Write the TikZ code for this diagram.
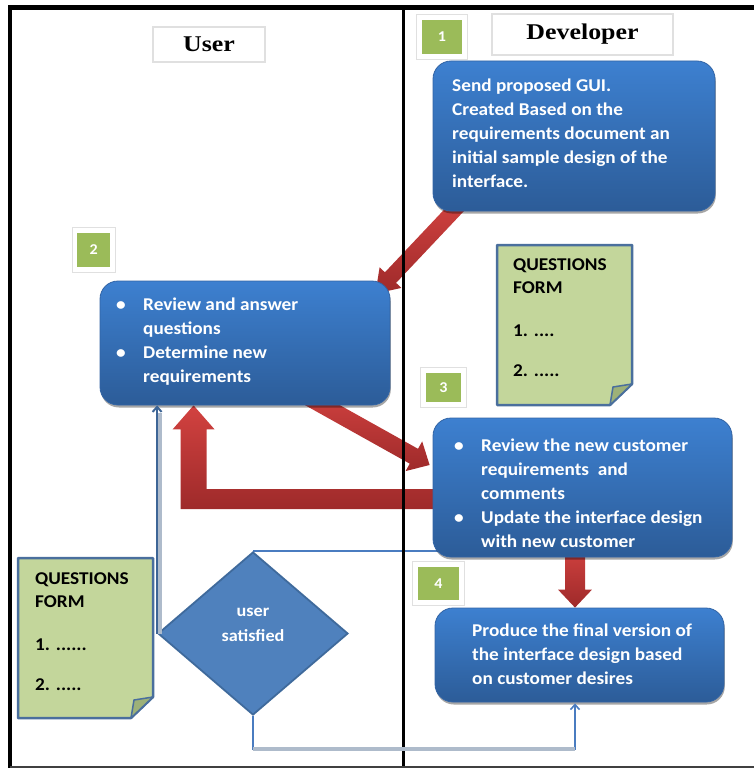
\documentclass[tikz,border=0pt]{standalone}
\usepackage{fontspec}
\setmainfont{Carlito}[FakeStretch=1.07]
\newfontfamily\titlefont[FakeStretch=1.15]{Liberation Serif}
\usetikzlibrary{shapes.geometric,calc,arrows.meta,shadows}
\definecolor{boxtop}{RGB}{61,128,208}
\definecolor{boxbot}{RGB}{44,92,152}
\definecolor{boxedge}{RGB}{50,100,165}
\definecolor{redtop}{RGB}{210,66,64}
\definecolor{redbot}{RGB}{158,42,42}
\definecolor{numgreen}{RGB}{155,187,89}
\definecolor{formfill}{RGB}{195,214,155}
\definecolor{formedge}{RGB}{74,111,157}
\definecolor{foldfill}{RGB}{157,177,120}
\definecolor{diafill}{RGB}{79,129,189}
\definecolor{diaedge}{RGB}{63,106,156}
\definecolor{connblue}{RGB}{74,124,192}
\definecolor{conndark}{RGB}{61,101,150}
\definecolor{connlight}{RGB}{174,187,203}
\pgfdeclarelayer{bg}
\pgfsetlayers{bg,main}
\newcommand\redarrow[5]{%
  \coordinate (ra) at (#1);
  \coordinate (rb) at (#2);
  \coordinate (rh) at ($(rb)!#5!(ra)$);
  \shade[redgrad] ($(ra)!#3!90:(rb)$) -- ($(rh)!#3!90:(rb)$) -- ($(rh)!#4!90:(rb)$) -- (rb)
    -- ($(rh)!#4!-90:(rb)$) -- ($(rh)!#3!-90:(rb)$) -- ($(ra)!#3!-90:(rb)$) -- cycle;}
\newcommand\qform[4]{%
  \draw[formst] (#1,#2) -- (#3,#2) -- (#3,#4-21) -- (#3-22,#4) -- (#1,#4) -- cycle;
  \draw[foldst] (#3,#4-21) -- (#3-22,#4) -- (#3-19,#4-18) -- cycle;}
\begin{document}
\begin{tikzpicture}[x=1pt,y=-1pt,
  box/.style={rectangle, rounded corners=18pt, top color=boxtop, bottom color=boxbot,
    draw=boxedge, line width=0.8pt, inner sep=0pt,
    drop shadow={shadow xshift=0.8pt, shadow yshift=-2.5pt, opacity=0.35, fill=black}},
  txt/.style={text=white, font=\bfseries\fontsize{18}{24}\selectfont, align=left, inner sep=0pt, anchor=west},
  formtxt/.style={text=black, font=\bfseries\fontsize{18}{23}\selectfont, align=left, inner sep=0pt, anchor=west},
  hdr/.style={rectangle, draw=black!12, line width=1.2pt, fill=white, inner sep=0pt,
    font=\titlefont\bfseries\fontsize{22.5}{26}\selectfont},
  num/.style={rectangle, fill=numgreen, inner sep=0pt, text=white, font=\bfseries\fontsize{15}{18}\selectfont},
  numframe/.style={draw=black!12, line width=1.2pt, fill=white},
  redgrad/.style={top color=redtop, bottom color=redbot, draw=none},
  formst/.style={fill=formfill, draw=formedge, line width=2.5pt, line join=round},
  foldst/.style={fill=foldfill, draw=formedge, line width=1.5pt, line join=round},
  dia/.style={diamond, aspect=1.17, minimum width=190, minimum height=163, inner sep=0pt,
    fill=diafill, draw=diaedge, line width=1.8pt},
  conn/.style={draw=connblue, line width=1.6pt},
  conndk/.style={draw=conndark, line width=2pt},
  connlt/.style={draw=connlight, line width=3.5pt}
]
\useasboundingbox (0,0) rectangle (754,768);

% headers
\node[hdr, minimum width=112, minimum height=35] (huser) at (209,44.5) {User};
\node[hdr, minimum width=181, minimum height=41] (hdev) at (582.5,34.5) {Developer};

% process boxes
\node[box, minimum width=282, minimum height=150] (box1) at (574,136) {};
\node[box, minimum width=290, minimum height=124] (box2) at (245,343) {};
\node[box, minimum width=299, minimum height=139] (box3) at (582.5,487.5) {};
\node[box, minimum width=289, minimum height=94] (box4) at (579.5,655) {};

\node[txt] (t1) at (452,133) {Send proposed GUI.\\Created Based on the\\requirements document an\\initial sample design of the\\interface.};
\node[txt] (t2) at (116,342) {\makebox[27pt][l]{\textbullet}Review and answer\\\hspace*{27pt}questions\\\makebox[27pt][l]{\textbullet}Determine new\\\hspace*{27pt}requirements};
\node[txt] (t3) at (454,493) {\makebox[27pt][l]{\textbullet}Review the new customer\\\hspace*{27pt}requirements~ and\\\hspace*{27pt}comments\\\makebox[27pt][l]{\textbullet}Update the interface design\\\hspace*{27pt}with new customer};
\node[txt] (t4) at (472,654) {Produce the final version of\\the interface design based\\on customer desires};

% question forms
\qform{497}{245}{632}{405}
\node[formtxt] (qf1) at (513,318) {QUESTIONS\\FORM\\[20pt]1. ....\\[17pt]2. .....};
\qform{18}{558}{153}{718}
\node[formtxt] (qf2) at (35,632) {QUESTIONS\\FORM\\[20pt]1. ......\\[17pt]2. .....};

% decision
\node[dia] (dia) at (253,633.5) {};
\node[text=white, font=\bfseries\fontsize{17}{25}\selectfont, align=center, inner sep=0pt] (diat) at (253,625) {user\\satisfied};

% step numbers
\node[num, minimum width=40, minimum height=34] (n1) at (442,37) {1};
\node[num, minimum width=33, minimum height=34] (n2) at (93.8,250) {2};
\node[num, minimum width=35, minimum height=29] (n3) at (443.5,387.5) {3};
\node[num, minimum width=41, minimum height=33] (n4) at (438.5,583.5) {4};

\begin{pgfonlayer}{bg}
  \foreach \n in {n1,n2,n3,n4}
    \draw[numframe] ($(\n.north west)+(-5,-5)$) rectangle ($(\n.south east)+(5,5)$);
  % red arrows
  \redarrow{$(box1.south west)+(28,-8)$}{$(box2.north east)+(-15,13)$}{7.7pt}{15pt}{22pt}
  \redarrow{$(box2.south)+(60,-10)$}{$(box3.west)+(-3,-22.5)$}{8.5pt}{17pt}{18pt}
  \redarrow{$(box3.south)+(-7.5,-12)$}{$(box4.north)+(-4.5,0)$}{10pt}{17pt}{18pt}
  \coordinate (ctip) at ($(box2.south west)+(94,0)$);
  \coordinate (cend) at ($(box3.west)+(8,0)$);
  \shade[redgrad] (ctip) -- ++(21,24) -- ++(-8,0) -- ($(ctip |- 0,489)+(13,0)$)
     -- (cend |- 0,489) -- (cend |- 0,509) -- ($(ctip |- 0,509)+(-13,0)$) -- ($(ctip)+(-13,24)$) -- ($(ctip)+(-21,24)$) -- cycle;
  % thin connector from box 3 to decision
  \draw[conn] (dia.north) -- ($(dia.north -| box3.west)+(10,0)$);
  % lane divider
  \draw[line width=2.5pt] (403.5,7.5) -- (403.5,768);
\end{pgfonlayer}

% connectors from decision
\draw[connlt] ($(dia.west)+(3,0)$) -- ($(dia.west |- box2.south)+(3,8)$);
\draw[conndk, -{Straight Barb[length=5pt,width=9pt]}] (dia.west) -- (dia.west |- box2.south);
\coordinate (g1) at ($(dia.south)+(0,33)$);
\coordinate (g3) at ($(box4.south)+(-4.5,1)$);
\coordinate (g2) at (g1 -| g3);
\draw[conn, -{Straight Barb[length=5pt,width=9pt]}] (dia.south) -- (g1) -- (g2) -- (g3);
\draw[connlt] (g1) -- (g2);

% outer frame
\draw[line width=4.5pt, line join=miter] (10,768) -- (10,7.5) -- (754,7.5);
\draw[line width=2pt, draw=black!75] (10,766.5) -- (754,766.5);
\end{tikzpicture}
\end{document}
